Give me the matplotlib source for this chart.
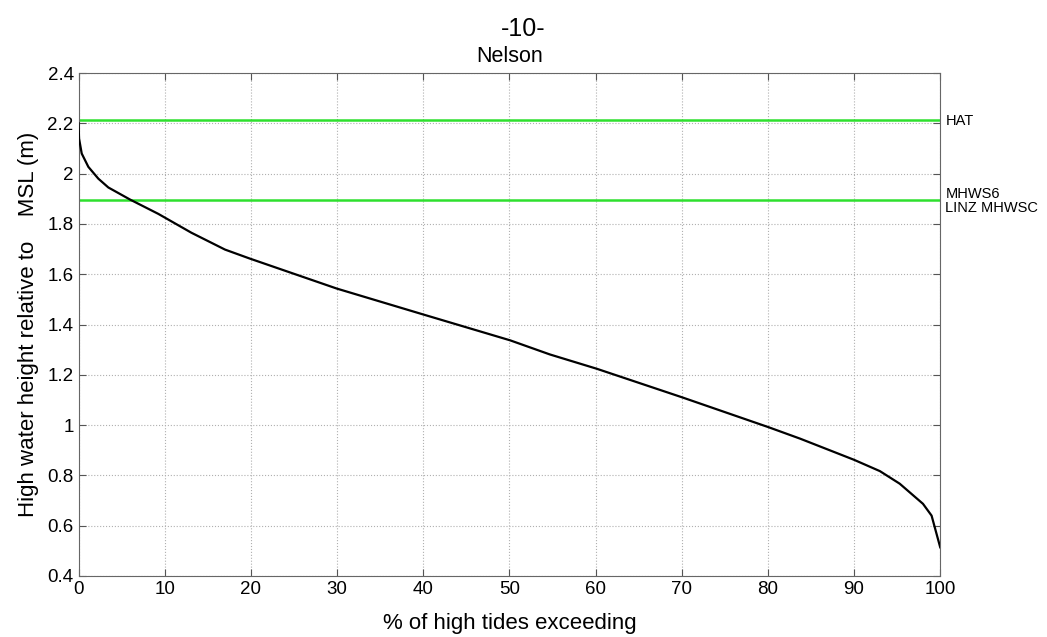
import numpy as np
import matplotlib.pyplot as plt

# % of high tides exceeding vs. high water height (m, relative to MSL)
pct = [0.0, 0.06, 0.37, 1.14, 2.3, 3.46, 5.98, 9.26, 13.1, 17.0, 19.9, 29.97,
       40.0, 50.1, 54.7, 60.15, 70.0, 80.05, 83.75, 90.0, 93.0, 95.3, 98.0,
       99.0, 100.0]
height = [2.20, 2.14, 2.08, 2.027, 1.98, 1.945, 1.897, 1.84, 1.765, 1.698,
          1.662, 1.543, 1.44, 1.337, 1.281, 1.224, 1.111, 0.992, 0.946, 0.862,
          0.817, 0.767, 0.687, 0.64, 0.514]

levels = [2.213, 1.897]
level_names = ['HAT', 'MHWS6\nLINZ MHWSC']

plt.rcParams['font.family'] = ['Liberation Sans', 'DejaVu Sans']

fig = plt.figure(figsize=(10.47, 6.37), dpi=100)
ax = fig.add_axes([0.075, 0.0958, 0.823, 0.7895])

ax.plot(pct, height, color='black', lw=1.6, zorder=3)
for lv in levels:
    ax.axhline(lv, color='#2ee02e', lw=1.8, zorder=2)

ax.set_xlim(0, 100)
ax.set_ylim(0.4, 2.4)
ax.set_xticks(np.arange(0, 101, 10))
ax.set_yticks(np.arange(0.4, 2.41, 0.2))
ax.set_yticklabels(['0.4', '0.6', '0.8', '1', '1.2', '1.4', '1.6', '1.8', '2', '2.2', '2.4'])
ax.grid(True, color='#b0b0b0', ls=':', lw=0.8)
ax.tick_params(direction='in', top=True, right=True, length=5, labelsize=13.5,
               color='#555555')
for s in ax.spines.values():
    s.set_color('#666666')

ax.set_xlabel('% of high tides exceeding', fontsize=16, labelpad=11)
ax.set_ylabel('High water height relative to    MSL (m)', fontsize=16, labelpad=6)
ax.set_title('Nelson', fontsize=15.5, pad=8)

ax.text(1.006, levels[0] - 0.005, level_names[0], fontsize=10.5, va='center',
        transform=ax.get_yaxis_transform())
ax.text(1.006, levels[1] - 0.005, level_names[1], fontsize=10.5, va='center',
        linespacing=0.95, transform=ax.get_yaxis_transform())
fig.text(0.5, 0.943, '-10-', fontsize=18, ha='center')

fig.savefig('out.png', dpi=100)
